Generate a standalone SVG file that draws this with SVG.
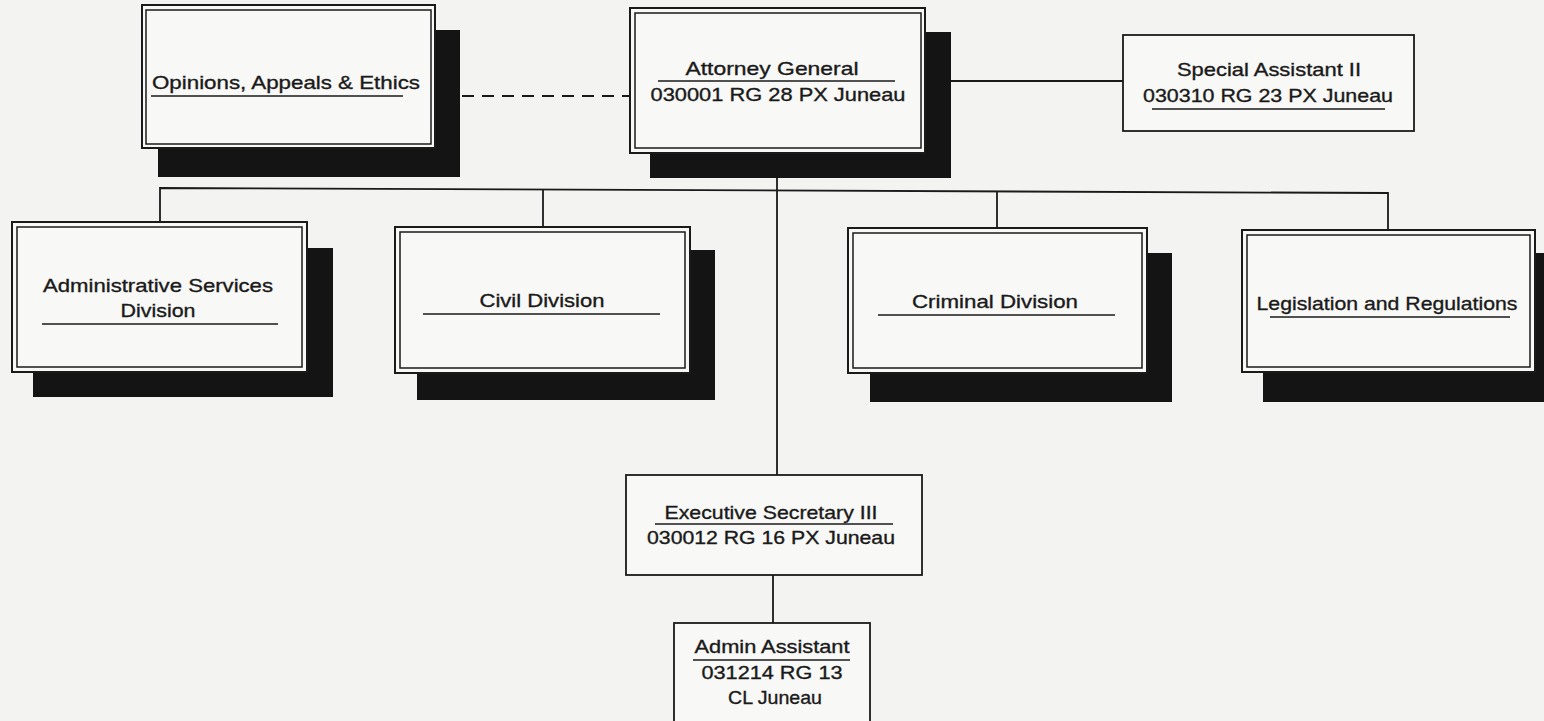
<svg xmlns="http://www.w3.org/2000/svg" width="1544" height="721" viewBox="0 0 1544 721">
<style>
  .bg { fill: #f3f3f1; }
  .shadow { fill: #141414; }
  .outer { fill: #f8f8f6; stroke: #1a1a1a; stroke-width: 2; }
  .inner { fill: none; stroke: #1a1a1a; stroke-width: 1.5; }
  .single { fill: #f8f8f6; stroke: #1a1a1a; stroke-width: 1.8; }
  .ul { stroke: #1a1a1a; stroke-width: 1.6; }
  .conn { fill: none; stroke: #1a1a1a; stroke-width: 1.8; }
  .dash { fill: none; stroke: #1a1a1a; stroke-width: 1.8; stroke-dasharray: 12 8; }
  text { font-family: "Liberation Sans", Arial, sans-serif; font-size: 19px; fill: #1a1a1a; stroke: #1a1a1a; stroke-width: 0.35; text-anchor: middle; }
</style>
<rect class="bg" x="0" y="0" width="1544" height="721"/>

<g id="connectors">
  <line class="dash" x1="462" y1="96" x2="630" y2="96"/>
  <line class="conn" x1="925" y1="81" x2="1123" y2="81"/>
  <polyline class="conn" points="160,223 160,188 1388,193 1388,230"/>
  <line class="conn" x1="543" y1="189" x2="543" y2="227"/>
  <line class="conn" x1="997" y1="191" x2="997" y2="228"/>
  <line class="conn" x1="777" y1="178" x2="777" y2="475"/>
  <line class="conn" x1="773" y1="575" x2="773" y2="623"/>
</g>

<g id="opinions">
  <rect class="shadow" x="158" y="30" width="302" height="147"/>
  <rect class="outer" x="142" y="5" width="293" height="143"/>
  <rect class="inner" x="146" y="10" width="285" height="134"/>
  <text x="286" y="89" textLength="268" lengthAdjust="spacingAndGlyphs">Opinions, Appeals &amp; Ethics</text>
  <line class="ul" x1="151" y1="96" x2="403" y2="96"/>
</g>

<g id="attorney-general">
  <rect class="shadow" x="650" y="32" width="301" height="146"/>
  <rect class="outer" x="630" y="8" width="295" height="145"/>
  <rect class="inner" x="635" y="13" width="286" height="135"/>
  <text x="772" y="75" textLength="173" lengthAdjust="spacingAndGlyphs">Attorney General</text>
  <line class="ul" x1="658" y1="81" x2="895" y2="81"/>
  <text x="778" y="101" textLength="255" lengthAdjust="spacingAndGlyphs">030001 RG 28 PX Juneau</text>
</g>

<g id="special-assistant">
  <rect class="single" x="1123" y="35" width="291" height="96"/>
  <text x="1269" y="76" textLength="184" lengthAdjust="spacingAndGlyphs">Special Assistant II</text>
  <text x="1268" y="102" textLength="250" lengthAdjust="spacingAndGlyphs">030310 RG 23 PX Juneau</text>
  <line class="ul" x1="1152" y1="109" x2="1385" y2="109"/>
</g>

<g id="admin-services">
  <rect class="shadow" x="33" y="248" width="300" height="149"/>
  <rect class="outer" x="12" y="222" width="295" height="150"/>
  <rect class="inner" x="17" y="227" width="285" height="140"/>
  <text x="158" y="292" textLength="230" lengthAdjust="spacingAndGlyphs">Administrative Services</text>
  <text x="158" y="317" textLength="75" lengthAdjust="spacingAndGlyphs">Division</text>
  <line class="ul" x1="42" y1="324" x2="278" y2="324"/>
</g>

<g id="civil">
  <rect class="shadow" x="417" y="250" width="298" height="150"/>
  <rect class="outer" x="395" y="227" width="295" height="146"/>
  <rect class="inner" x="400" y="232" width="285" height="136"/>
  <text x="542" y="307" textLength="125" lengthAdjust="spacingAndGlyphs">Civil Division</text>
  <line class="ul" x1="423" y1="314" x2="660" y2="314"/>
</g>

<g id="criminal">
  <rect class="shadow" x="870" y="253" width="302" height="149"/>
  <rect class="outer" x="848" y="228" width="299" height="145"/>
  <rect class="inner" x="853" y="233" width="289" height="135"/>
  <text x="995" y="308" textLength="166" lengthAdjust="spacingAndGlyphs">Criminal Division</text>
  <line class="ul" x1="878" y1="315" x2="1115" y2="315"/>
</g>

<g id="legislation">
  <rect class="shadow" x="1263" y="253" width="281" height="149"/>
  <rect class="outer" x="1242" y="230" width="293" height="142"/>
  <rect class="inner" x="1247" y="235" width="283" height="132"/>
  <text x="1387" y="310" textLength="261" lengthAdjust="spacingAndGlyphs">Legislation and Regulations</text>
  <line class="ul" x1="1270" y1="317" x2="1510" y2="317"/>
</g>

<g id="executive-secretary">
  <rect class="single" x="626" y="475" width="296" height="100"/>
  <text x="771" y="519" textLength="213" lengthAdjust="spacingAndGlyphs">Executive Secretary III</text>
  <line class="ul" x1="655" y1="524" x2="893" y2="524"/>
  <text x="771" y="544" textLength="248" lengthAdjust="spacingAndGlyphs">030012 RG 16 PX Juneau</text>
</g>

<g id="admin-assistant">
  <rect class="single" x="674" y="623" width="196" height="110"/>
  <text x="772" y="653" textLength="155" lengthAdjust="spacingAndGlyphs">Admin Assistant</text>
  <line class="ul" x1="693" y1="660" x2="850" y2="660"/>
  <text x="772" y="679" textLength="141" lengthAdjust="spacingAndGlyphs">031214 RG 13</text>
  <text x="775" y="704" textLength="94" lengthAdjust="spacingAndGlyphs">CL Juneau</text>
</g>
</svg>
